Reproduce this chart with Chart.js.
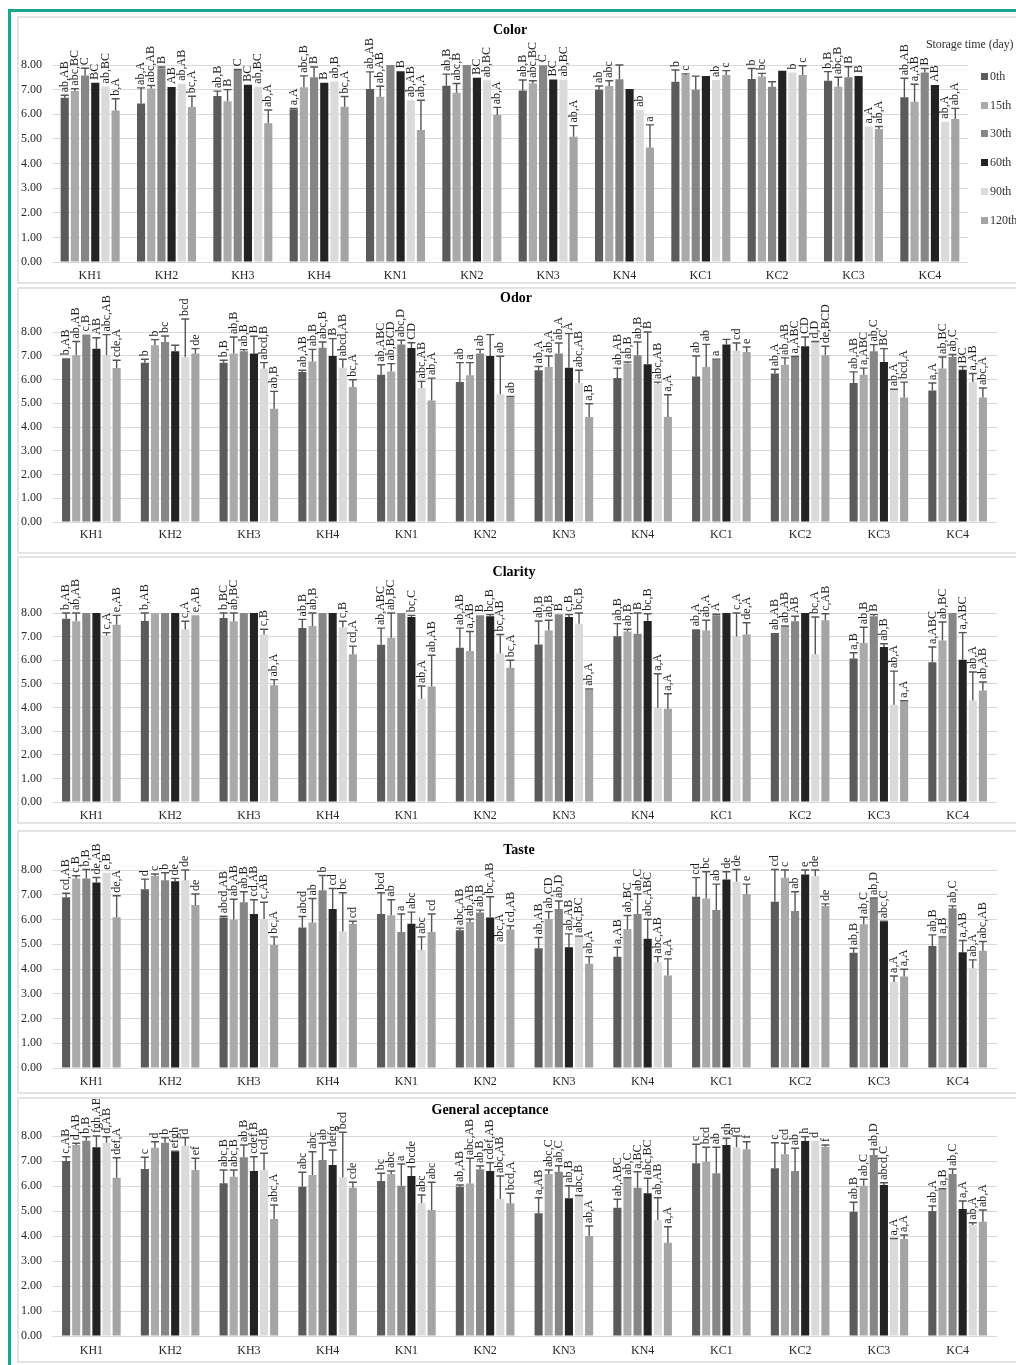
<!DOCTYPE html>
<html>
<head>
<meta charset="utf-8">
<script src="https://cdn.jsdelivr.net/npm/chart.js@4.4.1/dist/chart.umd.min.js"></script>
<style>
  body { margin: 0; background: #fff; width: 1016px; height: 1365px; position: relative; overflow: hidden; }
  #frame { position: absolute; left: 8px; top: 9px; width: 1012px; height: 1362px; border: 3px solid #17a88e; }
  .panel { position: absolute; left: 17px; width: 1010px; border: 2px solid #e3e3e3; box-sizing: border-box; }
  canvas.sens { position: absolute; left: 18px; }
  #legend { position: absolute; left: 926px; top: 37px; font-family: "Liberation Serif", serif; font-size: 12px; color: #333; }
  #legend .ttl { white-space: nowrap; letter-spacing: -0.1px; }
  #legend .item { position: absolute; left: 55px; white-space: nowrap; }
  #legend .sw { display: inline-block; width: 7px; height: 7px; margin-right: 2px; vertical-align: 0px; }
</style>
</head>
<body>
<div id="frame"></div>
<div class="panel" style="top:16px;height:268px"></div>
<div class="panel" style="top:287px;height:267px"></div>
<div class="panel" style="top:556px;height:268px"></div>
<div class="panel" style="top:830px;height:264px"></div>
<div class="panel" style="top:1097px;height:266px"></div>
<canvas class="sens" id="cColor"></canvas>
<canvas class="sens" id="cOdor"></canvas>
<canvas class="sens" id="cClarity"></canvas>
<canvas class="sens" id="cTaste"></canvas>
<canvas class="sens" id="cGeneral"></canvas>
<div id="legend"></div>

<script>
// sample codes and storage times
const categories = ['KH1', 'KH2', 'KH3', 'KH4', 'KN1', 'KN2', 'KN3', 'KN4', 'KC1', 'KC2', 'KC3', 'KC4'];
const storageDays = ['0th', '15th', '30th', '60th', '90th', '120th'];
const barColors = ['#5b5b5b', '#aaaaaa', '#868686', '#232323', '#dadada', '#a4a4a4'];
const yMax = 8;

// each row = one sample, columns = 0th..120th
const colorMean = [
  [6.67, 6.94, 7.57, 7.28, 7.13, 6.15],
  [6.44, 7.05, 7.87, 7.11, 7.24, 6.29],
  [6.74, 6.53, 7.80, 7.20, 7.12, 5.63],
  [6.20, 7.10, 7.50, 7.28, 7.33, 6.30],
  [7.03, 6.71, 8.00, 7.75, 6.57, 5.36],
  [7.16, 6.87, 8.00, 7.48, 7.38, 5.97],
  [6.96, 7.26, 7.99, 7.41, 7.41, 5.09],
  [6.99, 7.15, 7.42, 7.03, 6.18, 4.65],
  [7.32, 7.59, 6.99, 7.55, 7.39, 7.59],
  [7.43, 7.53, 7.12, 7.77, 7.70, 7.59],
  [7.36, 7.12, 7.50, 7.55, 5.50, 5.40],
  [6.69, 6.51, 7.70, 7.19, 5.70, 5.81]
];
const colorSD = [
  [0.10, 0.10, 0.30, 0, 0, 0.48],
  [0.63, 0.12, 0.05, 0, 0, 0.44],
  [0.20, 0.47, 0.02, 0, 0, 0.54],
  [0.04, 0.46, 0.42, 0, 0, 0.42],
  [0.69, 0.43, 0, 0, 0, 1.21],
  [0.47, 0.38, 0, 0, 0, 0.31],
  [0.43, 0.10, 0, 0, 0, 0.45],
  [0.16, 0.21, 0.58, 0, 0, 0.92],
  [0.48, 0.05, 0.56, 0, 0, 0.18],
  [0.43, 0.13, 0.20, 0, 0, 0.38],
  [0.37, 0.38, 0.43, 0, 0, 0.10],
  [0.77, 0.71, 0.16, 0, 0, 0.43]
];
const colorLetters = [
  ['ab,AB', 'abc,BC', 'C', 'BC', 'ab,BC', 'b,A'],
  ['ab,A', 'abc,AB', 'B', 'AB', 'ab,AB', 'bc,A'],
  ['ab,B', 'B', 'C', 'BC', 'ab,BC', 'ab,A'],
  ['a,A', 'abc,B', 'B', 'B', 'ab,B', 'bc,A'],
  ['ab,AB', 'ab,AB', '', 'B', 'ab,AB', 'ab,A'],
  ['ab,B', 'abc,B', '', 'BC', 'ab,BC', 'ab,A'],
  ['ab,B', 'abc,BC', 'C', 'BC', 'ab,BC', 'ab,A'],
  ['ab', 'abc', '', '', 'ab', 'a'],
  ['b', 'c', '', '', 'ab', 'c'],
  ['b', 'bc', '', '', 'b', 'c'],
  ['b,B', 'abc,B', 'B', 'B', 'a,A', 'ab,A'],
  ['ab,AB', 'a,AB', 'B', 'AB', 'ab,A', 'ab,A']
];

const odorMean = [
  [6.90, 7.02, 7.90, 7.30, 7.02, 6.48],
  [6.71, 7.44, 7.58, 7.19, 6.95, 7.09],
  [6.71, 7.09, 7.19, 7.09, 6.46, 4.77],
  [6.32, 6.76, 7.34, 6.99, 6.50, 5.68],
  [6.20, 6.34, 7.47, 7.33, 5.64, 5.12],
  [5.89, 6.18, 7.09, 6.99, 5.38, 5.26],
  [6.39, 6.53, 7.09, 6.50, 5.85, 4.42],
  [6.06, 6.67, 7.02, 6.64, 5.82, 4.42],
  [6.13, 6.53, 6.84, 7.47, 7.21, 7.16],
  [6.25, 6.62, 6.95, 7.40, 7.58, 7.02],
  [5.85, 6.20, 7.19, 6.74, 5.57, 5.24],
  [5.54, 6.46, 6.95, 6.41, 5.89, 5.24]
];
const odorSD = [
  [0, 0.58, 0, 0.46, 0.87, 0.33],
  [0.14, 0.24, 0.25, 0.25, 1.60, 0.21],
  [0.10, 0.70, 0.07, 0.73, 0.25, 0.73],
  [0.07, 0.51, 0.24, 0.73, 0.35, 0.31],
  [0.42, 0.33, 0.18, 0.22, 0.28, 0.94],
  [0.82, 0.53, 0.18, 0.90, 1.60, 0.03],
  [0.16, 0.46, 0.45, 1.43, 0.54, 0.56],
  [0.42, 0.07, 0.56, 1.36, 0.07, 0.94],
  [0.86, 0.95, 0.02, 0.22, 0.33, 0.21],
  [0.18, 0.29, 0.02, 0.39, 0.02, 0.38],
  [0.47, 0.28, 0.28, 0.56, 0.02, 0.65],
  [0.31, 0.49, 0.10, 0.14, 0.36, 0.40]
];
const odorLetters = [
  ['b,AB', 'ab,AB', 'c,B', 'AB', 'abc,AB', 'cde,A'],
  ['b', 'b', 'bc', '', 'bcd', 'de'],
  ['b,B', 'ab,B', 'ab,B', 'B', 'abcd,B', 'ab,B'],
  ['ab,AB', 'ab,B', 'abc,B', 'B', 'abcd,AB', 'bc,A'],
  ['ab,ABC', 'ab,BCD', 'abc,D', 'CD', 'abc,AB', 'ab,A'],
  ['ab', 'a', 'ab', '', 'ab', 'ab'],
  ['ab,A', 'ab,A', 'ab,A', 'A', 'abc,AB', 'a,B'],
  ['ab,AB', 'ab,B', 'ab,B', 'B', 'abc,AB', 'a,A'],
  ['ab', 'ab', 'a', '', 'cd', 'e'],
  ['ab,A', 'ab,AB', 'a,ABC', 'CD', 'd,D', 'de,BCD'],
  ['ab,AB', 'a,ABC', 'ab,C', 'BC', 'ab,A', 'bcd,A'],
  ['a,A', 'ab,BC', 'ab,C', 'BC', 'a,AB', 'abc,A']
];

const clarityMean = [
  [7.76, 7.65, 8.00, 8.00, 7.05, 7.50],
  [7.66, 8.00, 8.00, 8.00, 7.31, 7.90],
  [7.79, 7.65, 8.00, 8.00, 7.09, 4.94],
  [7.36, 7.45, 8.00, 8.00, 7.40, 6.25],
  [6.66, 6.95, 8.00, 7.83, 4.37, 4.89],
  [6.53, 6.39, 7.90, 7.86, 6.30, 5.68],
  [6.67, 7.26, 7.95, 7.83, 7.55, 4.77],
  [7.02, 7.22, 7.12, 7.66, 3.99, 3.95],
  [7.31, 7.26, 7.90, 8.00, 7.01, 7.09],
  [7.15, 7.43, 7.65, 8.00, 6.25, 7.69],
  [6.07, 6.73, 7.86, 6.56, 4.12, 4.27],
  [5.92, 6.84, 8.00, 6.02, 4.30, 4.72]
];
const claritySD = [
  [0.24, 0.35, 0, 0, 0.12, 0.40],
  [0.34, 0, 0, 0, 0.34, 0],
  [0.21, 0.35, 0, 0, 0.22, 0.24],
  [0.37, 0.55, 0, 0, 0.25, 0.35],
  [0.70, 1.05, 0, 0.07, 0.54, 1.32],
  [0.83, 0.83, 0, 0.07, 0.79, 0.32],
  [0.99, 0.43, 0, 0.10, 0.45, 0.02],
  [0.53, 0.09, 0.88, 0.31, 1.44, 0.63],
  [0, 0.43, 0.05, 0, 0.99, 0.50],
  [0, 0.02, 0.21, 0, 1.58, 0.28],
  [0.25, 0.67, 0.07, 0.14, 1.42, 0.02],
  [0.64, 0.78, 0, 1.15, 1.20, 0.36]
];
const clarityLetters = [
  ['b,AB', 'ab,AB', '', '', 'c,A', 'e,AB'],
  ['b,AB', '', '', '', 'c,A', 'e,AB'],
  ['b,BC', 'ab,BC', '', '', 'c,B', 'ab,A'],
  ['ab,B', 'ab,B', '', '', 'c,B', 'cd,A'],
  ['ab,ABC', 'ab,BC', '', 'bc,C', 'ab,A', 'ab,AB'],
  ['ab,AB', 'a,AB', 'B', 'bc,B', 'bc,AB', 'bc,A'],
  ['ab,B', 'ab,B', 'B', 'c,B', 'bc,B', 'ab,A'],
  ['ab,B', 'ab,B', 'B', 'bc,B', 'a,A', 'a,A'],
  ['ab,A', 'ab,A', 'A', '', 'c,A', 'de,A'],
  ['ab,AB', 'ab,AB', 'AB', '', 'bc,A', 'c,AB'],
  ['a,B', 'ab,B', 'B', 'ab,B', 'ab,A', 'a,A'],
  ['a,ABC', 'ab,BC', '', 'a,ABC', 'ab,A', 'ab,AB']
];

const tasteMean = [
  [6.90, 7.66, 7.66, 7.49, 7.89, 6.09],
  [7.22, 7.76, 7.59, 7.55, 7.59, 6.59],
  [6.08, 6.00, 6.70, 6.22, 6.02, 4.97],
  [5.68, 5.88, 7.18, 6.42, 5.52, 5.82],
  [6.22, 6.17, 5.50, 5.83, 4.77, 5.50],
  [5.57, 5.90, 6.28, 6.08, 4.97, 5.60],
  [4.84, 6.02, 6.42, 4.88, 5.31, 4.21],
  [4.50, 5.62, 6.22, 5.22, 4.27, 3.74],
  [6.92, 6.85, 6.38, 7.62, 7.53, 7.03],
  [6.72, 7.69, 6.34, 7.82, 7.76, 6.55],
  [4.66, 5.81, 6.85, 5.91, 3.47, 3.70],
  [4.93, 5.28, 6.45, 4.68, 4.03, 4.74]
];
const tasteSD = [
  [0.16, 0.11, 0.36, 0.21, 0, 0.87],
  [0.41, 0.08, 0.30, 0.11, 0.41, 0.44],
  [0.05, 0.82, 0.42, 0.58, 0.68, 0.33],
  [0.44, 0.97, 0.60, 0.83, 1.56, 0.11],
  [0.86, 0.63, 0.72, 0.47, 0.53, 0.72],
  [0.08, 0.12, 0.10, 0.84, 0, 0.15],
  [0.43, 0.30, 0.33, 0.54, 0.02, 0.29],
  [0.38, 0.54, 0.81, 0.79, 0.23, 0.67],
  [0.77, 1.08, 1.05, 0.31, 0.49, 0.40],
  [1.30, 0.31, 0.78, 0.18, 0.24, 0.08],
  [0.18, 0.28, 0.02, 0.02, 0.25, 0.29],
  [0.45, 0.02, 0.10, 0.47, 0.34, 0.37]
];
const tasteLetters = [
  ['cd,AB', 'c,B', 'b,B', 'de,AB', 'e,B', 'de,A'],
  ['d', 'c', 'b', 'de', 'de', 'de'],
  ['abcd,AB', 'ab,AB', 'ab,B', 'cd,AB', 'c,AB', 'bc,A'],
  ['abcd', 'ab', 'b', 'cd', 'bc', 'cd'],
  ['bcd', 'ab', 'a', 'abc', 'abc', 'cd'],
  ['abc,AB', 'ab,AB', 'ab,B', 'bc,AB', 'abc,A', 'cd,AB'],
  ['ab,AB', 'ab,CD', 'ab,D', 'ab,AB', 'abc,BC', 'ab,A'],
  ['a,AB', 'ab,BC', 'ab,C', 'abc,ABC', 'abc,AB', 'a,A'],
  ['cd', 'bc', 'ab', 'de', 'de', 'e'],
  ['cd', 'c', 'ab', 'e', 'de', 'de'],
  ['ab,B', 'ab,C', 'ab,D', 'abc,C', 'a,A', 'a,A'],
  ['ab,B', 'a,B', 'ab,C', 'a,AB', 'ab,A', 'abc,AB']
];

const generalMean = [
  [7.00, 7.64, 7.81, 7.55, 7.73, 6.33],
  [6.68, 7.53, 7.73, 7.37, 7.61, 6.64],
  [6.11, 6.37, 7.15, 6.60, 6.64, 4.68],
  [5.97, 6.44, 7.04, 6.84, 6.35, 5.93],
  [6.20, 6.48, 6.01, 6.40, 5.31, 5.04],
  [5.97, 6.10, 6.67, 6.60, 5.48, 5.31],
  [4.91, 6.48, 6.57, 5.51, 5.60, 4.00],
  [5.13, 6.31, 5.93, 5.71, 4.64, 3.73],
  [6.91, 6.97, 6.51, 7.64, 7.55, 7.47],
  [6.71, 7.27, 6.60, 7.80, 7.80, 7.57],
  [4.97, 6.01, 7.24, 6.04, 3.88, 3.88],
  [5.00, 5.87, 6.48, 5.08, 4.44, 4.57]
];
const generalSD = [
  [0.17, 0.07, 0.16, 0.45, 0.24, 0.80],
  [0.47, 0.24, 0.20, 0.02, 0.32, 0.47],
  [0.53, 0.27, 0.49, 0.57, 0.67, 0.56],
  [0.58, 0.93, 0.67, 0.60, 1.80, 0.22],
  [0.31, 0.12, 0.87, 0.37, 0.33, 1.11],
  [0.07, 1.01, 0.13, 0.33, 0.92, 0.40],
  [0.62, 0.16, 0.24, 0.50, 0.02, 0.40],
  [0.34, 0.02, 0.64, 0.60, 0.89, 0.64],
  [0.76, 0.58, 1.04, 0.27, 0.45, 0.30],
  [1.02, 0.44, 0.91, 0.17, 0, 0.07],
  [0.38, 0.26, 0.23, 0.09, 0.02, 0.16],
  [0.20, 0.02, 0.20, 0.32, 0.09, 0.47]
];
const generalLetters = [
  ['c,AB', 'd,AB', 'b,B', 'fgh,AB', 'd,AB', 'def,A'],
  ['c', 'd', 'b', 'efgh', 'd', 'ef'],
  ['abc,B', 'abc,B', 'ab,B', 'cdef,B', 'cd,B', 'abc,A'],
  ['abc', 'abc', 'ab', 'defg', 'bcd', 'cde'],
  ['bc', 'abc', 'a', 'bcde', 'abc', 'abc'],
  ['ab,AB', 'abc,AB', 'ab,B', 'cdef,AB', 'abc,AB', 'bcd,A'],
  ['a,AB', 'abc,C', 'ab,C', 'ab,B', 'abc,B', 'ab,A'],
  ['ab,ABC', 'ab,C', 'a,BC', 'abc,BC', 'ab,AB', 'a,A'],
  ['c', 'bcd', 'ab', 'gh', 'd', 'f'],
  ['c', 'cd', 'ab', 'h', 'd', 'f'],
  ['ab,B', 'ab,C', 'ab,D', 'abcd,C', 'a,A', 'a,A'],
  ['ab,A', 'a,B', 'ab,C', 'a,A', 'ab,A', 'ab,A']
];

const FONT = "'Liberation Serif', 'Times New Roman', serif";
Chart.defaults.font.family = FONT;
Chart.defaults.font.size = 12;
Chart.defaults.color = '#404040';

// error bars (upper half only) and significance letters above them
const markPlugin = {
  id: 'marks',
  afterDatasetsDraw(chart) {
    const ctx = chart.ctx;
    const y = chart.scales.y;
    ctx.save();
    chart.data.datasets.forEach(function (ds, di) {
      const meta = chart.getDatasetMeta(di);
      meta.data.forEach(function (bar, i) {
        const sd = ds.sd[i];
        const top = y.getPixelForValue(ds.data[i] + sd);
        const x = bar.x;
        if (sd > 0) {
          ctx.strokeStyle = '#555555';
          ctx.lineWidth = 1.4;
          ctx.beginPath();
          ctx.moveTo(x, bar.y);
          ctx.lineTo(x, top);
          ctx.moveTo(x - 4, top);
          ctx.lineTo(x + 4, top);
          ctx.stroke();
        }
        const txt = ds.letters[i];
        if (txt) {
          ctx.save();
          ctx.translate(x, top - 3);
          ctx.rotate(-Math.PI / 2);
          ctx.font = '12px ' + FONT;
          ctx.fillStyle = '#1e1e1e';
          ctx.textAlign = 'left';
          ctx.textBaseline = 'middle';
          ctx.fillText(txt, 0, 0);
          ctx.restore();
        }
      });
    });
    ctx.restore();
  }
};

// panel heading, placed freely on the canvas
const headingPlugin = {
  id: 'heading',
  afterDraw(chart, args, opts) {
    const ctx = chart.ctx;
    ctx.save();
    ctx.font = 'bold 14px ' + FONT;
    ctx.fillStyle = '#000';
    ctx.textAlign = 'center';
    ctx.textBaseline = 'middle';
    ctx.fillText(opts.text, opts.x, opts.y);
    ctx.restore();
  }
};

function makePanel(id, title, means, sds, letters, box) {
  const canvas = document.getElementById(id);
  canvas.style.top = box.top + 'px';
  canvas.style.width = '995px';
  canvas.style.height = box.height + 'px';
  canvas.width = 995;
  canvas.height = box.height;

  const datasets = storageDays.map(function (day, s) {
    return {
      label: day,
      data: means.map(function (row) { return row[s]; }),
      sd: sds.map(function (row) { return row[s]; }),
      letters: letters.map(function (row) { return row[s]; }),
      backgroundColor: barColors[s],
      borderWidth: 0,
      categoryPercentage: box.catPct,
      barPercentage: 0.8
    };
  });

  return new Chart(canvas.getContext('2d'), {
    type: 'bar',
    data: { labels: categories, datasets: datasets },
    options: {
      responsive: false,
      animation: false,
      layout: { padding: { top: box.padTop, right: box.padRight, left: 0, bottom: 0 } },
      plugins: {
        legend: { display: false },
        tooltip: { enabled: false },
        heading: { text: title, x: box.titleX - 18, y: box.titleY - box.top }
      },
      scales: {
        x: {
          grid: { display: false, drawTicks: false },
          border: { display: false },
          ticks: { padding: box.tickPad, color: '#262626', font: { size: 12 }, maxRotation: 0 },
          afterFit: function (scale) { scale.height = box.xHeight; }
        },
        y: {
          min: 0,
          max: yMax,
          grid: { color: '#d9d9d9', lineWidth: 1, drawTicks: false },
          border: { display: false },
          ticks: {
            stepSize: 1,
            padding: 10,
            color: '#262626',
            font: { size: 12 },
            callback: function (v) { return v.toFixed(2); }
          },
          afterFit: function (scale) { scale.width = 34; }
        }
      }
    },
    plugins: [markPlugin, headingPlugin]
  });
}

makePanel('cColor', 'Color', colorMean, colorSD, colorLetters,
  { top: 18, height: 264, padTop: 47, padRight: 45, xHeight: 20, tickPad: 7, catPct: 0.8, titleX: 510, titleY: 30 });
makePanel('cOdor', 'Odor', odorMean, odorSD, odorLetters,
  { top: 289, height: 263, padTop: 43, padRight: 16, xHeight: 30, tickPad: 6, catPct: 0.77, titleX: 516, titleY: 298 });
makePanel('cClarity', 'Clarity', clarityMean, claritySD, clarityLetters,
  { top: 558, height: 264, padTop: 55, padRight: 16, xHeight: 20, tickPad: 7, catPct: 0.77, titleX: 514, titleY: 572 });
makePanel('cTaste', 'Taste', tasteMean, tasteSD, tasteLetters,
  { top: 832, height: 260, padTop: 38, padRight: 16, xHeight: 24, tickPad: 7, catPct: 0.77, titleX: 519, titleY: 850 });
makePanel('cGeneral', 'General acceptance', generalMean, generalSD, generalLetters,
  { top: 1099, height: 262, padTop: 37, padRight: 16, xHeight: 25, tickPad: 8, catPct: 0.77, titleX: 490, titleY: 1110 });

// legend for storage time, beside the first panel
const legend = document.getElementById('legend');
legend.innerHTML = '<div class="ttl">Storage time (day)</div>' +
  storageDays.map(function (d, s) {
    return '<div class="item" style="top:' + (32 + s * 28.7) + 'px"><span class="sw" style="background:' +
      barColors[s] + '"></span>' + d + '</div>';
  }).join('');
</script>
</body>
</html>
